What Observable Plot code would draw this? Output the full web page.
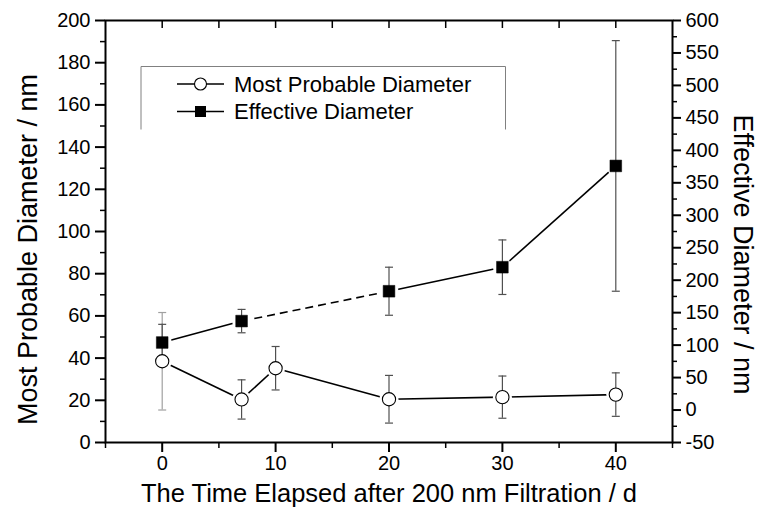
<!DOCTYPE html>
<html><head><meta charset="utf-8">
<script src="https://cdn.jsdelivr.net/npm/d3@7"></script>
<script src="https://cdn.jsdelivr.net/npm/@observablehq/plot@0.6"></script>
<style>body{margin:0;background:#fff}</style>
</head><body><div id="chart"></div>
<script>
// ---- data ----
const mpdDays = [0, 7, 10, 20, 30, 40];
const mpdValues = [38.5, 20.4, 35.2, 20.5, 21.5, 22.7];      // Most Probable Diameter (left axis, nm)
const mpdErrors = [23.1, 9.3, 10.3, 11.3, 10.0, 10.3];
const effDays = [0, 7, 20, 30, 40];
const effValues = [104, 137, 183, 220, 376];                  // Effective Diameter (right axis, nm)
const effErrors = [28, 18, 37, 42, 193];
const effSegmentStyle = ["solid", "dashed", "solid", "solid"];
const xTicks = [0, 10, 20, 30, 40];
const xMinorTicks = [-5, 5, 15, 25, 35, 45];
const xTopTicks = [0, 5, 10, 15, 20, 25, 30, 35, 40];
const leftTicks = [0, 20, 40, 60, 80, 100, 120, 140, 160, 180, 200];
const leftMinorTicks = [10, 30, 50, 70, 90, 110, 130, 150, 170, 190];
const rightTicks = [-50, 0, 50, 100, 150, 200, 250, 300, 350, 400, 450, 500, 550, 600];
const rightMinorTicks = [-25, 25, 75, 125, 175, 225, 275, 325, 375, 425, 475, 525, 575];
const xTitle = "The Time Elapsed after 200 nm Filtration / d";
const leftTitle = "Most Probable Diameter / nm";
const rightTitle = "Effective Diameter / nm";
const legendLabels = ["Most Probable Diameter", "Effective Diameter"];

// right axis (-50..600) maps linearly onto left axis (0..200)
const toLeft = v => (v + 50) / 3.25;
const fromLeft = v => v * 3.25 - 50;

const mpd = mpdDays.map((d, i) => ({x: d, y: mpdValues[i], lo: mpdValues[i] - mpdErrors[i], hi: mpdValues[i] + mpdErrors[i], first: i === 0}));
const eff = effDays.map((d, i) => ({x: d, y: toLeft(effValues[i]), lo: toLeft(effValues[i] - effErrors[i]), hi: toLeft(effValues[i] + effErrors[i])}));
const effSegs = effSegmentStyle.map((s, i) => ({x1: eff[i].x, y1: eff[i].y, x2: eff[i + 1].x, y2: eff[i + 1].y, style: s}));
const mpdSegs = mpd.slice(1).map((p, i) => ({x1: mpd[i].x, y1: mpd[i].y, x2: p.x, y2: p.y}));
const caps = d => [...d.map(p => ({x: p.x, y: p.lo, first: p.first})), ...d.map(p => ({x: p.x, y: p.hi, first: p.first}))];
const capSymbol = {draw(ctx) { ctx.moveTo(-4, 0); ctx.lineTo(4, 0); }};

const FONT = "Liberation Sans, Arial, sans-serif";
const TICK_FONT = 20;
const chart = Plot.plot({
  width: 763, height: 519,
  marginLeft: 105, marginRight: 91, marginTop: 20, marginBottom: 77,
  style: {fontFamily: FONT, background: "white", color: "black"},
  x: {domain: [-5, 45]},
  y: {domain: [0, 200]},
  marks: [
    // axes
    Plot.axisX(xTicks, {anchor: "bottom", tickSize: 10, tickPadding: 3, strokeWidth: 2, fontSize: TICK_FONT, label: null}),
    Plot.axisX(xMinorTicks, {anchor: "bottom", tickSize: 6, strokeWidth: 1.5, tickFormat: () => "", label: null}),
    Plot.axisX(xTopTicks, {anchor: "top", tickSize: 7, dy: 7, strokeWidth: 1.5, tickFormat: () => "", label: null}),
    Plot.axisY(leftTicks, {anchor: "left", tickSize: 10, tickPadding: 5, strokeWidth: 2, fontSize: TICK_FONT, label: null}),
    Plot.axisY(leftMinorTicks, {anchor: "left", tickSize: 5, strokeWidth: 1.5, tickFormat: () => "", label: null}),
    Plot.axisY(rightTicks.map(toLeft), {anchor: "right", tickSize: 8, tickPadding: 5, strokeWidth: 2, fontSize: TICK_FONT, label: null, tickFormat: d => String(Math.round(fromLeft(d)))}),
    Plot.axisY(rightMinorTicks.map(toLeft), {anchor: "right", tickSize: 4, strokeWidth: 1.5, tickFormat: () => "", label: null}),
    Plot.frame({stroke: "black", strokeWidth: 2}),
    // titles
    Plot.text([xTitle], {frameAnchor: "bottom", dy: 59, fontSize: 25.5, textAnchor: "middle"}),
    Plot.text([leftTitle], {frameAnchor: "left", dx: -77, dy: 18, rotate: -90, fontSize: 27, textAnchor: "middle"}),
    Plot.text([rightTitle], {frameAnchor: "right", dx: 70, dy: 23, rotate: 90, fontSize: 27, textAnchor: "middle"}),
    // lines
    Plot.link(mpdSegs, {x1: "x1", y1: "y1", x2: "x2", y2: "y2", stroke: "black", strokeWidth: 1.6}),
    Plot.link(effSegs.filter(s => s.style === "solid"), {x1: "x1", y1: "y1", x2: "x2", y2: "y2", stroke: "black", strokeWidth: 1.6}),
    Plot.link(effSegs.filter(s => s.style === "dashed"), {x1: "x1", y1: "y1", x2: "x2", y2: "y2", stroke: "black", strokeWidth: 1.6, strokeDasharray: "8,5"}),
    // white halos (gap between lines and markers)
    Plot.dot([...mpd, ...eff], {x: "x", y: "y", r: 9.5, fill: "white"}),
    // error bars
    Plot.ruleX(mpd, {x: "x", y1: "lo", y2: "hi", stroke: d => d.first ? "#a0a0a0" : "#505050", strokeWidth: 1.2}),
    Plot.ruleX(eff, {x: "x", y1: "lo", y2: "hi", stroke: "#505050", strokeWidth: 1.2}),
    Plot.dot(caps(mpd), {x: "x", y: "y", symbol: capSymbol, stroke: d => d.first ? "#a0a0a0" : "#505050", strokeWidth: 1.2, fill: "none"}),
    Plot.dot(caps(eff), {x: "x", y: "y", symbol: capSymbol, stroke: "#505050", strokeWidth: 1.2, fill: "none"}),
    // markers
    Plot.dot(mpd, {x: "x", y: "y", r: 6.6, fill: "white", stroke: "black", strokeWidth: 1.1}),
    Plot.dot(eff, {x: "x", y: "y", r: 6.6, symbol: "square", fill: "black", stroke: "black", strokeWidth: 0.5})
  ]
});
document.getElementById("chart").append(chart);

const svg = d3.select(chart);

// legend (open box with two entries) drawn into the same svg
const lg = svg.append("g").attr("font-family", FONT).attr("text-anchor", "start");
lg.append("path").attr("d", "M141,129.5V66.5H505.5V129.5").attr("fill", "none").attr("stroke", "#808080").attr("stroke-width", 1);
const rows = [84, 111.5];
rows.forEach((yy, i) => {
  lg.append("line").attr("x1", 177).attr("x2", 224).attr("y1", yy).attr("y2", yy).attr("stroke", "black").attr("stroke-width", 1.6);
  if (i === 0) lg.append("circle").attr("cx", 200.5).attr("cy", yy).attr("r", 6).attr("fill", "white").attr("stroke", "black").attr("stroke-width", 1.1);
  else lg.append("rect").attr("x", 195).attr("y", yy - 5.5).attr("width", 11).attr("height", 11).attr("fill", "black");
  lg.append("text").attr("x", 234).attr("y", yy).attr("dy", "0.35em").attr("font-size", 22).attr("text-anchor", "start").attr("fill", "black").text(legendLabels[i]);
});
</script>
</body></html>
